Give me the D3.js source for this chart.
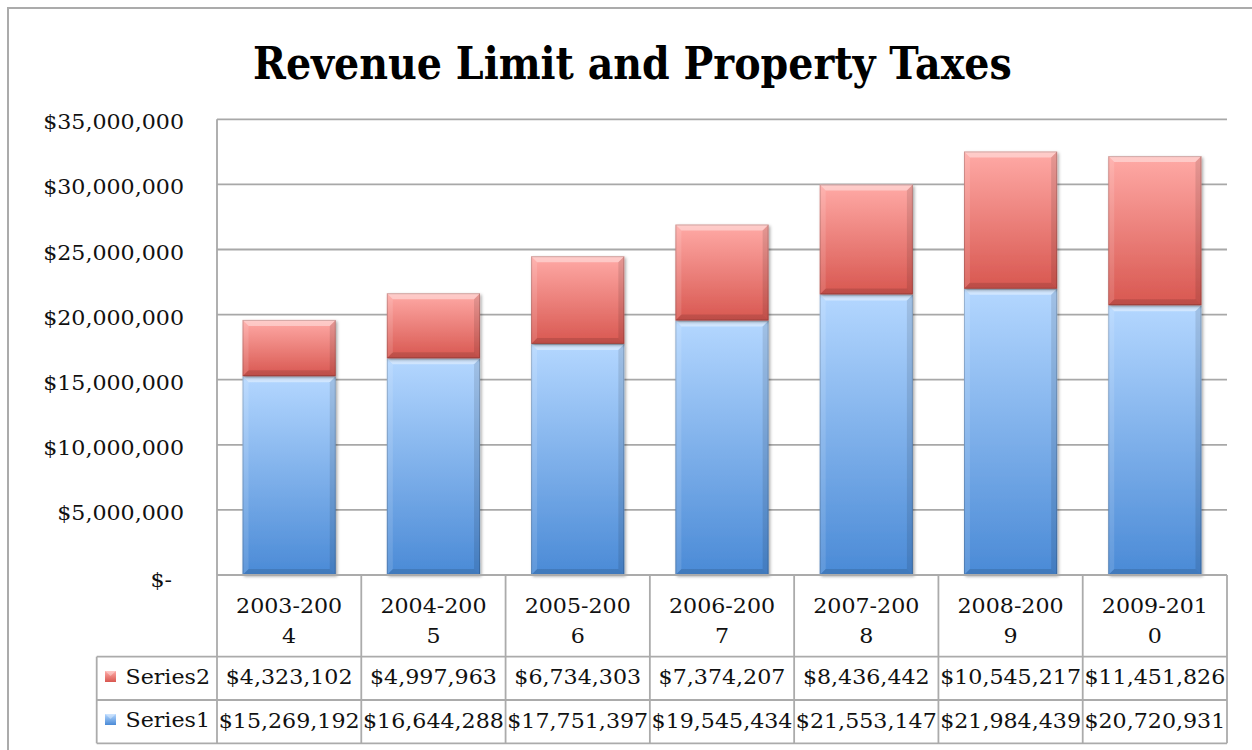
<!DOCTYPE html>
<html><head><meta charset="utf-8">
<script src="https://cdn.jsdelivr.net/npm/d3@7/dist/d3.min.js"></script>
<style>html,body{margin:0;padding:0;background:#fff;}svg{display:block;}</style>
</head><body>
<svg id="chart" width="1252" height="750"></svg>
<script>
const title = "Revenue Limit and Property Taxes";
const categories = ["2003-2004","2004-2005","2005-2006","2006-2007","2007-2008","2008-2009","2009-2010"];
const categoryLine1 = ["2003-200","2004-200","2005-200","2006-200","2007-200","2008-200","2009-201"];
const categoryLine2 = ["4","5","6","7","8","9","0"];
const seriesNames = ["Series1","Series2"];
const series1 = [15269192,16644288,17751397,19545434,21553147,21984439,20720931];
const series2 = [4323102,4997963,6734303,7374207,8436442,10545217,11451826];
const yTicks = [0,5000000,10000000,15000000,20000000,25000000,30000000,35000000];

const svg = d3.select("#chart");
const FONT = "'DejaVu Serif', serif";
const L = 217, R = 1227, T = 119.3, B = 575;

const defs = svg.append("defs");
function grad(id, top, bottom){
  const g = defs.append("linearGradient").attr("id",id).attr("x1",0).attr("y1",0).attr("x2",0).attr("y2",1);
  g.append("stop").attr("offset","0%").attr("stop-color",top);
  g.append("stop").attr("offset","100%").attr("stop-color",bottom);
}
grad("gBlue","#b4d7ff","#4a8ad6");
grad("gRed","#ffaaa6","#d85750");
const f = defs.append("filter").attr("id","shadow").attr("x","-10%").attr("y","-10%").attr("width","130%").attr("height","130%");
f.append("feDropShadow").attr("dx",1.5).attr("dy",1.5).attr("stdDeviation",1.5).attr("flood-color","#000").attr("flood-opacity",0.35);

// outer frame
svg.append("path").attr("d","M8,760 L8,8 L1262,8").attr("fill","none").attr("stroke","#ababab").attr("stroke-width",2);

const x = d3.scaleBand().domain(categories).range([L,R]).paddingInner(0.354).paddingOuter(0.177);
const band = (R-L)/categories.length;
const y = d3.scaleLinear().domain([0,35000000]).range([B,T]);

// measure stretch factor for body text
const FS = 20.5;
const probe = svg.append("text").attr("font-family",FONT).attr("font-size",FS).text("$35,000,000");
const SX = 141 / probe.node().getComputedTextLength();
probe.remove();
function stext(g, tx, ty, str, anchor){
  return g.append("text").attr("transform",`translate(${tx},${ty}) scale(${SX},1)`)
    .attr("text-anchor",anchor).attr("font-family",FONT).attr("font-size",FS)
    .attr("fill","#111").text(str);
}

// gridlines
const grid = svg.append("g");
grid.selectAll("line").data(yTicks.filter(d=>d>0)).join("line")
  .attr("x1",L).attr("x2",R).attr("y1",d=>y(d)).attr("y2",d=>y(d))
  .attr("stroke","#a8a8a8").attr("stroke-width",1.8);
grid.append("line").attr("x1",L).attr("x2",L).attr("y1",T).attr("y2",B).attr("stroke","#a8a8a8").attr("stroke-width",1.8);

// y tick labels
const yl = svg.append("g");
yTicks.forEach(t=>{
  if(t===0){ stext(yl,172,y(0)+12,"$-","end"); }
  else { stext(yl,184,y(t)+10,d3.format("$,")(t),"end"); }
});

// bars
const stacked = categories.map((c,i)=>[
  {c, y0:0, y1:series1[i], fill:"url(#gBlue)"},
  {c, y0:series1[i], y1:series1[i]+series2[i], fill:"url(#gRed)"}
]).flat();
const bars = svg.append("g");
const bw = x.bandwidth();
stacked.forEach(s=>{
  const x0 = x(s.c), yt = y(s.y1), yb = y(s.y0), h = yb-yt;
  const g = bars.append("g");
  g.append("rect").attr("x",x0).attr("y",yt).attr("width",bw).attr("height",h).attr("fill",s.fill).attr("filter","url(#shadow)");
  const b = 6;
  g.append("path").attr("d",`M${x0},${yt} L${x0+bw},${yt} L${x0+bw-b},${yt+b} L${x0+b},${yt+b} Z`).attr("fill","#fff").attr("opacity",0.4);
  g.append("path").attr("d",`M${x0},${yb} L${x0+bw},${yb} L${x0+bw-b},${yb-b} L${x0+b},${yb-b} Z`).attr("fill","#000").attr("opacity",0.12);
  g.append("path").attr("d",`M${x0},${yt} L${x0+b},${yt+b} L${x0+b},${yb-b} L${x0},${yb} Z`).attr("fill","#fff").attr("opacity",0.12);
  g.append("path").attr("d",`M${x0+bw},${yt} L${x0+bw-b},${yt+b} L${x0+bw-b},${yb-b} L${x0+bw},${yb} Z`).attr("fill","#000").attr("opacity",0.1);
  g.append("rect").attr("x",x0+0.5).attr("y",yt+0.5).attr("width",bw-1).attr("height",h-1).attr("fill","none").attr("stroke","#000").attr("stroke-opacity",0.18).attr("stroke-width",1);
});

// data table
const tbl = svg.append("g");
const rowY = [B, 656.7, 700, 743.3];
const lc = "#ababab";
tbl.append("line").attr("x1",L).attr("x2",R).attr("y1",B).attr("y2",B).attr("stroke",lc).attr("stroke-width",1.8);
[1,2,3].forEach(k=>tbl.append("line").attr("x1",96.7).attr("x2",R).attr("y1",rowY[k]).attr("y2",rowY[k]).attr("stroke",lc).attr("stroke-width",1.8));
d3.range(categories.length+1).forEach(k=>{
  const xx = L + k*band;
  tbl.append("line").attr("x1",xx).attr("x2",xx).attr("y1",B).attr("y2",rowY[3]).attr("stroke",lc).attr("stroke-width",1.8);
});
tbl.append("line").attr("x1",96.7).attr("x2",96.7).attr("y1",rowY[1]).attr("y2",rowY[3]).attr("stroke",lc).attr("stroke-width",1.8);

categories.forEach((c,i)=>{
  const cx = x(c) + bw/2;
  stext(tbl,cx,613,categoryLine1[i],"middle");
  stext(tbl,cx,643,categoryLine2[i],"middle");
  stext(tbl,cx,684,d3.format("$,")(series2[i]),"middle");
  stext(tbl,cx,727.5,d3.format("$,")(series1[i]),"middle");
});
const keyRows = [{name:seriesNames[1], fill:"url(#gRed)", y:671}, {name:seriesNames[0], fill:"url(#gBlue)", y:714}];
keyRows.forEach(k=>{
  tbl.append("rect").attr("x",105).attr("y",k.y).attr("width",11).attr("height",11).attr("fill",k.fill);
  tbl.append("path").attr("d",`M105,${k.y} L116,${k.y} L110.5,${k.y+5} Z`).attr("fill","#fff").attr("opacity",0.35);
  stext(tbl,125.5,k.y+12.5,k.name,"start");
});

// title
const tt = svg.append("text").attr("font-family",FONT).attr("font-weight","bold").attr("font-size",44).text(title);
const tw = tt.node().getComputedTextLength();
tt.attr("transform",`translate(253,78.5) scale(${759/tw},1)`).attr("fill","#000");
</script>
</body></html>
